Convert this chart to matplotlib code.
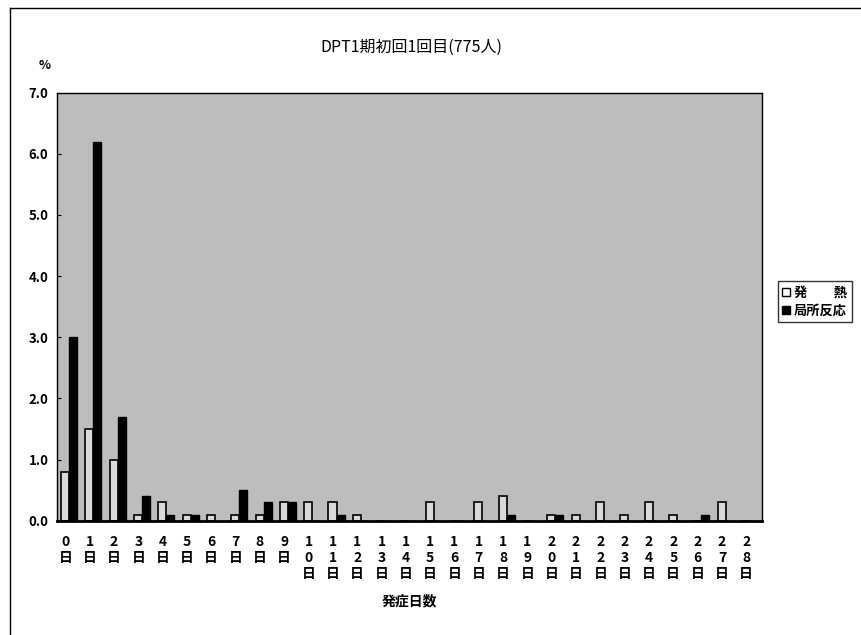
import numpy as np
import matplotlib
matplotlib.use('Agg')
import matplotlib.pyplot as plt
from matplotlib.patches import Patch

plt.rcParams['font.family'] = ['Noto Sans CJK JP', 'DejaVu Sans']

# data (% of 775 children)
days = list(range(29))
fever = [0.8, 1.5, 1.0, 0.1, 0.3, 0.1, 0.1, 0.1, 0.1, 0.3,
         0.3, 0.3, 0.1, 0.0, 0.0, 0.3, 0.0, 0.3, 0.4, 0.0,
         0.1, 0.1, 0.3, 0.1, 0.3, 0.1, 0.0, 0.3, 0.0]
local = [3.0, 6.2, 1.7, 0.4, 0.1, 0.1, 0.0, 0.5, 0.3, 0.3,
         0.0, 0.1, 0.0, 0.0, 0.0, 0.0, 0.0, 0.0, 0.1, 0.0,
         0.1, 0.0, 0.0, 0.0, 0.0, 0.0, 0.1, 0.0, 0.0]
yticks = [0.0, 1.0, 2.0, 3.0, 4.0, 5.0, 6.0, 7.0]
xlabels = ['\n'.join(str(d)) + '\n日' for d in days]

fig = plt.figure(figsize=(8.62, 6.35), dpi=100)
ax = fig.add_axes([0.066, 0.18, 0.818, 0.674])
ax.set_facecolor('#bdbdbd')

x = np.arange(len(days))
w = 0.33
ax.bar(x - w / 2, fever, w, facecolor='#d9d9d9', edgecolor='black', linewidth=1.2)
ax.bar(x + w / 2, local, w, facecolor='black', edgecolor='black', linewidth=1.0)

ax.set_xlim(-0.5, 28.5)
ax.set_ylim(0, 7.0)
ax.set_yticks(yticks)
ax.set_yticklabels([f'{v:.1f}' for v in yticks], fontsize=9.5, fontweight='bold')
ax.set_xticks(x - 0.15)
ax.set_xticklabels(xlabels, fontsize=10, fontweight='bold', linespacing=1.2,
                   va='top')
ax.tick_params(axis='x', length=0, pad=10)
ax.tick_params(axis='y', length=3, direction='in', pad=6)
for s in ax.spines.values():
    s.set_linewidth(1.0)
ax.spines['bottom'].set_linewidth(2.0)

ax.set_xlabel('発症日数', fontsize=10, fontweight='bold', labelpad=10)
fig.text(0.477, 0.926, 'DPT1期初回1回目(775人)', ha='center', va='center',
         fontsize=11.5)
fig.text(0.052, 0.897, '%', ha='center', va='center', fontsize=9,
         fontweight='bold')

handles = [Patch(facecolor='white', edgecolor='black', linewidth=1.0),
           Patch(facecolor='black', edgecolor='black')]
fig.legend(handles, ['発　　熱', '局所反応'], loc='center left',
           bbox_to_anchor=(0.902, 0.525), frameon=True,
           fancybox=False, edgecolor='black', handlelength=0.6,
           handleheight=0.6, handletextpad=0.3, borderpad=0.35,
           labelspacing=0.3, borderaxespad=0.0,
           prop={'weight': 'bold', 'size': 9.5})

# outer frame of the scanned chart
fig.add_artist(plt.Line2D([0.012, 0.012], [0.0, 0.987], color='black',
                          linewidth=1.0, transform=fig.transFigure))
fig.add_artist(plt.Line2D([0.012, 1.0], [0.987, 0.987], color='black',
                          linewidth=1.0, transform=fig.transFigure))

fig.savefig('out.png', dpi=100)
